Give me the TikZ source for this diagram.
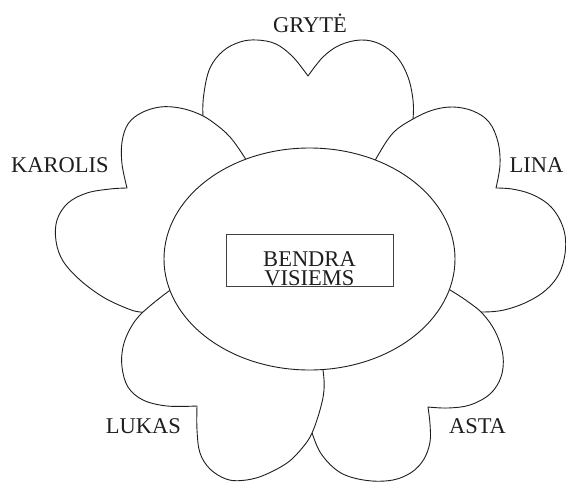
\documentclass[tikz,border=0pt]{standalone}
\usepackage{fontspec}
\setmainfont{Liberation Serif}
\usetikzlibrary{shapes.geometric}
\definecolor{ink}{RGB}{30,30,30}
\begin{document}
\begin{tikzpicture}[x=1pt,y=-1pt,
  petal/.style={draw=ink, fill=white, line width=0.9pt, line join=round},
  lbl/.style={font=\fontsize{22.5}{18.6}\selectfont, text=ink, inner sep=0pt}]
\useasboundingbox (0,0) rectangle (566,482);
% GRYTE
\filldraw[petal] (309,259) -- plot[smooth, tension=0.6] coordinates {(215,185) (207,150) (203,117) (204,93) (210,68) (223,51) (240,42) (257,40) (276,44) (293,57) (308,76)}
  -- plot[smooth, tension=0.6] coordinates {(308,76) (323,57) (340,45) (361,40) (380,44) (397,57) (408,77) (413,100) (413,120) (410,150) (400,185)} -- cycle;
% LINA
\filldraw[petal] (309,259) -- plot[smooth, tension=0.6] coordinates {(365,180) (377,157) (393,133) (413,119) (433,110) (453,107) (473,111) (489,122) (498,142) (500,165) (496,188)}
  -- plot[smooth, tension=0.6] coordinates {(496,188) (512,189) (531,194) (548,204) (559,218) (565,235) (565,254) (559,274) (546,290) (527,302) (504,310) (482,312) (460,310) (440,300)} -- cycle;
% ASTA
\filldraw[petal] (309,259) -- plot[smooth, tension=0.6] coordinates {(432,280) (450,290) (467,301) (483,314) (496,333) (503,356) (501,377) (490,394) (470,405) (448,408) (428,407)}
  -- plot[smooth, tension=0.6] coordinates {(428,407) (430,424) (430,442) (424,459) (412,472) (393,480) (367,480.5) (341,473) (322,455) (312,433) (305,410) (300,380)} -- cycle;
% KAROLIS
\filldraw[petal] (309,259) -- plot[smooth, tension=0.6] coordinates {(258,180) (245,158) (230,137) (214,123) (199,114) (180,108) (160,107) (141,113) (128,124) (122,142) (122,164) (127,188)}
  -- plot[smooth, tension=0.6] coordinates {(127,188) (110,189) (87,193) (68,203) (57,220) (56,241) (63,261) (80,280) (103,297) (126,308) (140,312) (160,312) (185,300)} -- cycle;
% LUKAS
\filldraw[petal] (309,259) -- plot[smooth, tension=0.6] coordinates {(190,278) (169,291) (142,313) (130,329) (123,347) (122,367) (128,387) (143,400) (167,406) (197,406)}
  -- plot[smooth, tension=0.6] coordinates {(197,406) (197,430) (200,453) (210,469) (226,479) (242,480.5) (262,476) (287,463) (303,447) (312,433) (320,410) (324,390) (323,370) (318,345)} -- cycle;
% centre
\node[draw=ink, fill=white, line width=0.9pt, ellipse, minimum width=291pt, minimum height=222pt, inner sep=0pt] (core) at (309.5,259) {};
\node[draw=ink!85, line width=0.7pt, minimum width=167pt, minimum height=52pt, inner sep=0pt] (box) at (309.5,260) {};
\node[lbl, align=center] (bendra) at (309.5,268.9) {BENDRA\\VISIEMS};
% labels
\node[lbl, anchor=base] (gryte) at (310,32) {GRYTĖ};
\node[lbl, anchor=base] (karolis) at (60,172) {KAROLIS};
\node[lbl, anchor=base] (lina) at (536.5,172) {LINA};
\node[lbl, anchor=base] (lukas) at (143.5,433) {LUKAS};
\node[lbl, anchor=base] (asta) at (477.5,433) {ASTA};
\end{tikzpicture}
\end{document}
